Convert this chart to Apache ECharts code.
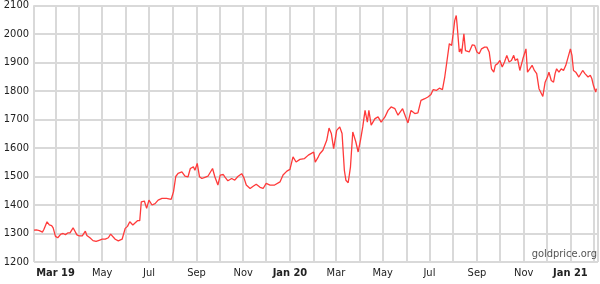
<!DOCTYPE html>
<html><head><meta charset="utf-8">
<script src="https://cdn.jsdelivr.net/npm/echarts@6/dist/echarts.min.js"></script>
<style>html,body{margin:0;padding:0;background:#fff}#c{width:600px;height:284px}</style>
</head><body><div id="c"></div>
<script>
var dates = [
'2019-02-01','2019-02-04','2019-02-08','2019-02-12','2019-02-14','2019-02-18','2019-02-20','2019-02-21','2019-02-24','2019-02-26',
'2019-03-01','2019-03-04','2019-03-06','2019-03-08','2019-03-11','2019-03-14','2019-03-17','2019-03-20','2019-03-24','2019-03-26','2019-03-29',
'2019-04-01','2019-04-05','2019-04-09','2019-04-11','2019-04-15','2019-04-19','2019-04-23','2019-04-27',
'2019-05-01','2019-05-05','2019-05-09','2019-05-12','2019-05-14','2019-05-18','2019-05-22','2019-05-27','2019-05-29','2019-05-31',
'2019-06-03','2019-06-06','2019-06-10','2019-06-12','2019-06-16','2019-06-19','2019-06-21','2019-06-25','2019-06-28',
'2019-07-01','2019-07-05','2019-07-09','2019-07-13','2019-07-18','2019-07-24','2019-07-30',
'2019-08-02','2019-08-05','2019-08-08','2019-08-13','2019-08-17','2019-08-21','2019-08-24','2019-08-28','2019-08-30',
'2019-09-02','2019-09-05','2019-09-08','2019-09-12','2019-09-16','2019-09-22','2019-09-25','2019-09-29',
'2019-10-02','2019-10-06','2019-10-08','2019-10-12','2019-10-17','2019-10-21','2019-10-25','2019-10-30',
'2019-11-02','2019-11-05','2019-11-10','2019-11-14','2019-11-18','2019-11-23','2019-11-27',
'2019-12-01','2019-12-06','2019-12-12','2019-12-19','2019-12-23','2019-12-28',
'2020-01-01','2020-01-05','2020-01-09','2020-01-14','2020-01-20','2020-01-25','2020-01-29',
'2020-02-01','2020-02-03','2020-02-07','2020-02-09','2020-02-13','2020-02-18','2020-02-21','2020-02-24','2020-02-27',
'2020-03-02','2020-03-06','2020-03-09','2020-03-12','2020-03-14','2020-03-17','2020-03-20','2020-03-23','2020-03-25','2020-03-27','2020-03-30',
'2020-04-02','2020-04-05','2020-04-08','2020-04-11','2020-04-13','2020-04-16','2020-04-21','2020-04-25','2020-04-29',
'2020-05-04','2020-05-08','2020-05-12','2020-05-17','2020-05-21','2020-05-23','2020-05-27','2020-05-31',
'2020-06-03','2020-06-07','2020-06-12','2020-06-16','2020-06-20','2020-06-25','2020-06-29',
'2020-07-03','2020-07-06','2020-07-10','2020-07-14','2020-07-18','2020-07-21','2020-07-24','2020-07-27','2020-07-30',
'2020-08-01','2020-08-03','2020-08-05','2020-08-06','2020-08-09','2020-08-11','2020-08-12','2020-08-15','2020-08-17','2020-08-19','2020-08-22','2020-08-24','2020-08-26','2020-08-29',
'2020-09-01','2020-09-04','2020-09-07','2020-09-11','2020-09-14','2020-09-17','2020-09-20','2020-09-23','2020-09-25','2020-09-28',
'2020-10-01','2020-10-04','2020-10-07','2020-10-10','2020-10-13','2020-10-16','2020-10-19','2020-10-21','2020-10-24','2020-10-27','2020-10-31',
'2020-11-02','2020-11-04','2020-11-06','2020-11-09','2020-11-12','2020-11-15','2020-11-18','2020-11-21','2020-11-23','2020-11-26','2020-11-29',
'2020-12-02','2020-12-04','2020-12-07','2020-12-10','2020-12-12','2020-12-14','2020-12-17','2020-12-20','2020-12-23','2020-12-26','2020-12-28',
'2021-01-01','2021-01-03','2021-01-05','2021-01-08','2021-01-12','2021-01-14','2021-01-17','2021-01-20','2021-01-24','2021-01-27','2021-01-29','2021-01-31',
'2021-02-03','2021-02-04'
];
var prices = [
1312,1313,1310,1305,1315,1341,1344,1330,1328,1320,
1290,1285,1286,1298,1300,1296,1302,1302,1320,1315,1295,
1292,1292,1308,1293,1285,1275,1272,1276,
1280,1280,1285,1298,1295,1280,1274,1280,1285,1318,
1325,1341,1330,1335,1345,1345,1411,1414,1388,
1417,1400,1405,1417,1423,1423,1420,
1446,1500,1511,1516,1501,1499,1528,1534,1522,
1546,1499,1493,1497,1501,1528,1499,1470,
1505,1507,1499,1485,1493,1487,1500,1510,
1495,1470,1458,1466,1473,1462,1458,
1476,1470,1470,1481,1505,1519,
1525,1569,1551,1560,1563,1575,1581,
1586,1550,1569,1580,1592,1627,1670,1651,1598,
1662,1674,1651,1522,1487,1478,1534,1656,1639,1621,1586,
1627,1674,1732,1691,1732,1680,1703,1709,1691,
1709,1732,1744,1738,1715,1715,1738,1709,
1688,1732,1721,1723,1767,1773,1779,
1788,1805,1802,1810,1805,1849,1907,1966,1960,
2001,2047,2065,2036,1937,1948,1931,2001,1942,1948,1937,1931,1962,1960,
1937,1931,1948,1954,1954,1937,1878,1866,1890,1896,
1907,1884,1902,1925,1902,1907,1925,1907,1913,1872,1913,
1919,1948,1866,1878,1890,1872,1861,1808,1802,1781,1831,
1849,1866,1837,1831,1861,1878,1866,1878,1872,1890,1896,
1948,1925,1872,1866,1849,1855,1872,1861,1849,1855,1843,1820,
1796,1808
];
var monthNames = ['Jan','Feb','Mar','Apr','May','Jun','Jul','Aug','Sep','Oct','Nov','Dec'];
var yTicks = {min: 1200, max: 2100, step: 100};
var xRange = {min: '2019-02-01', max: '2021-02-06'};
var watermark = 'goldprice.org';

var data = dates.map(function (d, i) { return [d, prices[i]]; });
var FONT = '"DejaVu Sans Condensed", "DejaVu Sans", Verdana, sans-serif';
var chart = echarts.init(document.getElementById('c'), null, {renderer: 'canvas'});
chart.setOption({
  animation: false,
  grid: {left: 34, right: 2, top: 5, bottom: 22, containLabel: false},
  xAxis: {
    type: 'time',
    min: xRange.min, max: xRange.max,
    minInterval: 28 * 86400000, maxInterval: 31 * 86400000,
    axisLine: {show: false},
    axisTick: {show: false},
    splitLine: {show: true, lineStyle: {color: '#d9d9d9', width: 2}},
    axisLabel: {
      margin: 6, color: '#222', fontFamily: FONT, fontSize: 11,
      showMinLabel: true, showMaxLabel: false, hideOverlap: false,
      formatter: function (val) {
        var d = new Date(val);
        if (d.getDate() !== 1) return '';
        var m = d.getMonth();
        if (m % 2 !== 0) return '';
        var yy = String(d.getFullYear()).slice(2);
        if (m === 0 || (d.getFullYear() === 2019 && m === 2)) return '{b|' + monthNames[m] + ' ' + yy + '}';
        return monthNames[m];
      },
      rich: {b: {fontWeight: 'bold', color: '#222', fontFamily: FONT, fontSize: 11}}
    }
  },
  yAxis: {
    type: 'value', min: yTicks.min, max: yTicks.max, interval: yTicks.step,
    axisLine: {show: false}, axisTick: {show: false},
    splitLine: {show: true, lineStyle: {color: '#d9d9d9', width: 2}},
    axisLabel: {margin: 5, color: '#222', fontFamily: FONT, fontSize: 11,
      formatter: function (v) { return String(v); }}
  },
  graphic: [{
    type: 'text', right: 3, top: 249, z: 10,
    style: {text: watermark, fill: '#555', font: '11px ' + FONT}
  }],
  series: [{
    type: 'line', data: data, showSymbol: false, symbol: 'none',
    lineStyle: {color: '#ff3a3a', width: 1.3}, z: 5
  }]
});
</script></body></html>
